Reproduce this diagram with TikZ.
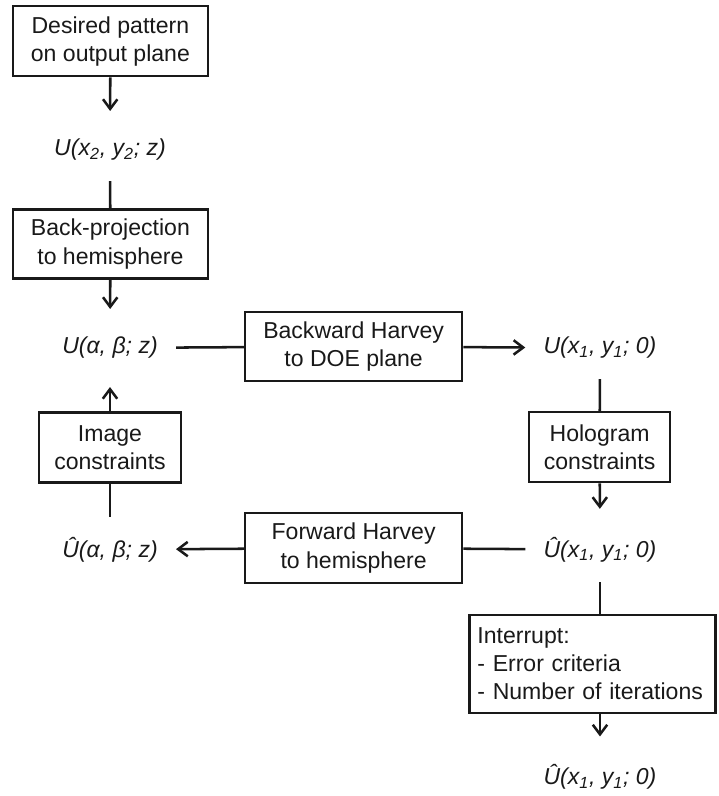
\documentclass[tikz,border=0pt]{standalone}
\usepackage{fontspec}
\setmainfont{Liberation Sans}
\usetikzlibrary{arrows.meta,calc}
\definecolor{LineClr}{rgb}{0.1,0.1,0.1}

\begin{document}
\begin{tikzpicture}[
  every node/.style={font=\fontsize{16.4}{20}\selectfont,text=LineClr},
  box/.style={draw=LineClr,line width=1.8pt,align=center,inner sep=0pt},
  field/.style={inner xsep=0.45cm,inner ysep=0.5cm,font=\fontsize{16.4}{20}\selectfont\itshape},
  flow/.style={draw=LineClr,line width=1.8pt},
  arr/.style={flow,-{Straight Barb[length=2.4mm,width=3.6mm]}}]
\useasboundingbox (0,0) rectangle (17.95,-19.9);

% boxes
\node[box,minimum width=4.875cm,minimum height=1.75cm] (Desired) at (2.76,-1.03) {Desired pattern\\on output plane};
\node[box,minimum width=4.875cm,minimum height=1.73cm] (BackProj) at (2.76,-6.1) {Back-projection\\to hemisphere};
\node[box,minimum width=5.425cm,minimum height=1.73cm] (Backward) at (8.84,-8.66) {Backward Harvey\\to DOE plane};
\node[box,minimum width=3.55cm,minimum height=1.75cm] (ImgCons) at (2.75,-11.19) {Image\\constraints};
\node[box,minimum width=3.525cm,minimum height=1.75cm] (HoloCons) at (14.99,-11.18) {Hologram\\constraints};
\node[box,minimum width=5.425cm,minimum height=1.75cm] (Forward) at (8.84,-13.7) {Forward Harvey\\to hemisphere};
\node[box,align=left,inner xsep=0.2cm,text width=5.75cm,minimum height=2.45cm] (Interrupt) at (14.81,-16.6)
  {Interrupt:\\- Error criteria\\- Number of iterations};

% fields
\node[field] (Utwo) at (2.75,-3.75) {U(x\textsubscript{2}, y\textsubscript{2}; z)};
\node[field] (Uab) at (2.75,-8.7) {U(α, β; z)};
\node[field] (Uone) at (15.0,-8.7) {U(x\textsubscript{1}, y\textsubscript{1}; 0)};
\node[field] (Uhab) at (2.75,-13.74) {Û(α, β; z)};
\node[field] (Uhone) at (15.0,-13.74) {Û(x\textsubscript{1}, y\textsubscript{1}; 0)};
\node[field] (Uend) at (15.0,-19.43) {Û(x\textsubscript{1}, y\textsubscript{1}; 0)};

% connectors
\draw[arr,shorten >=0.2cm] (Desired) -- (Utwo);
\draw[flow] (Utwo) -- (BackProj);
\draw[arr,shorten >=0.2cm] (BackProj) -- (Uab);
\draw[flow] (Uab) -- (Backward);
\draw[arr] (Backward) -- (Uone);
\draw[flow] (Uone) -- (HoloCons);
\draw[arr,shorten >=0.2cm] (HoloCons) -- (Uhone);
\draw[flow] (Uhone) -- (Forward);
\draw[arr] (Forward) -- (Uhab);
\draw[flow] (Uhab) -- (ImgCons);
\draw[arr,shorten >=0.2cm] (ImgCons) -- (Uab);
\draw[flow] (Uhone) -- (Uhone |- Interrupt.north);
\draw[arr,shorten >=0.2cm] (Interrupt.south -| Uend) -- (Uend);

\end{tikzpicture}
\end{document}
